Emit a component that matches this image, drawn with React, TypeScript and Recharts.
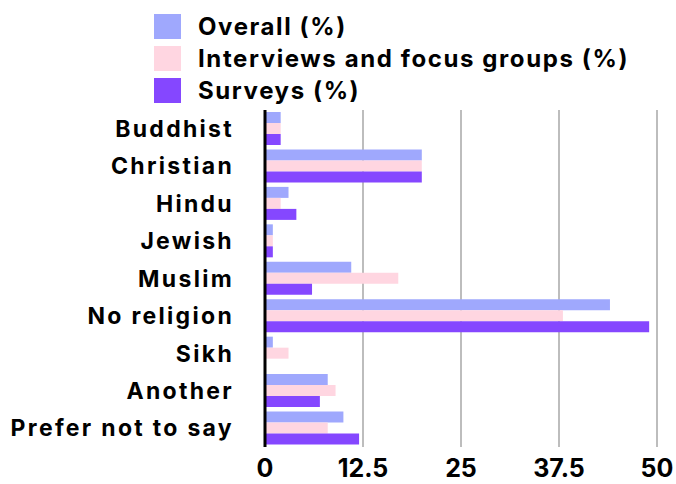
import {
  BarChart,
  Bar,
  XAxis,
  YAxis,
  CartesianGrid,
} from "recharts";

const categories = [
  "Buddhist",
  "Christian ",
  "Hindu",
  "Jewish",
  "Muslim",
  "No religion",
  "Sikh",
  "Another",
  "Prefer not to say ",
];
const overall = [2, 20, 3, 1, 11, 44, 1, 8, 10];
const interviews = [2, 20, 2, 1, 17, 38, 3, 9, 8];
const surveys = [2, 20, 4, 1, 6, 49, 0, 7, 12];
const xTicks = [0, 12.5, 25, 37.5, 50];

const SERIES = [
  { key: "overall", name: "Overall (%)", color: "#9fa8fd" },
  { key: "interviews", name: "Interviews and focus groups (%)", color: "#ffd6e1" },
  { key: "surveys", name: "Surveys (%)", color: "#8547ff" },
];

const data = categories.map((name, i) => ({
  name,
  overall: overall[i],
  interviews: interviews[i],
  surveys: surveys[i],
}));

const FONT = "Inter, 'DejaVu Sans', sans-serif";

function LegendBox() {
  return (
    <div
      style={{
        position: "absolute",
        left: 154,
        top: 10,
        fontFamily: FONT,
        fontWeight: 700,
        fontSize: 24,
        letterSpacing: 1.6,
        color: "#000",
      }}
    >
      {SERIES.map((s) => (
        <div key={s.key} style={{ display: "flex", alignItems: "center", height: 32 }}>
          <span style={{ width: 27, height: 25, background: s.color, display: "inline-block", marginRight: 17 }} />
          <span>{s.name}</span>
        </div>
      ))}
    </div>
  );
}

export default function App() {
  return (
    <div style={{ position: "absolute", left: 0, top: 0, width: 676, height: 484, background: "#fff" }}>
      <BarChart
        width={676}
        height={484}
        data={data}
        layout="vertical"
        margin={{ top: 110, right: 19, left: 0, bottom: 0 }}
        barCategoryGap={2}
        barGap={0}
      >
        <CartesianGrid horizontal={false} stroke="#bdbdbd" strokeWidth={2} />
        <XAxis
          type="number"
          domain={[0, 50]}
          ticks={xTicks}
          axisLine={false}
          tickLine={false}
          height={37}
          tickSize={0}
          tickMargin={12}
          tick={{ fill: "#000", fontSize: 25, fontWeight: 700, fontFamily: FONT }}
        />
        <YAxis
          type="category"
          dataKey="name"
          width={265}
          axisLine={{ stroke: "#000", strokeWidth: 3 }}
          tickLine={false}
          tickSize={0}
          tickMargin={31}
          interval={0}
          tick={{ fill: "#000", fontSize: 23, fontWeight: 700, fontFamily: FONT, letterSpacing: 2.3 }}
        />
        {SERIES.map((s) => (
          <Bar key={s.key} dataKey={s.key} name={s.name} fill={s.color} isAnimationActive={false} />
        ))}
      </BarChart>
      <LegendBox />
    </div>
  );
}
